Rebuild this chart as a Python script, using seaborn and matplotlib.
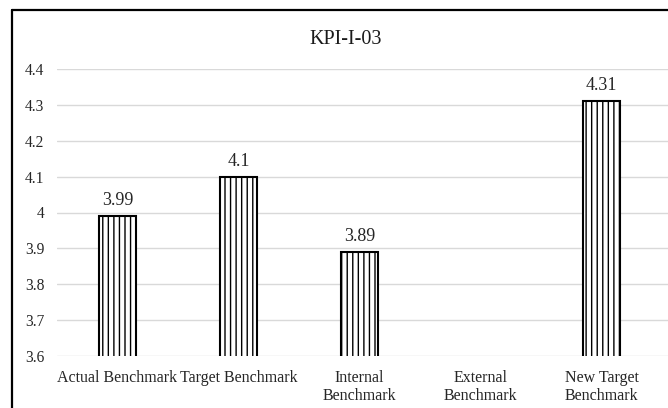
import numpy as np
import pandas as pd
import matplotlib
matplotlib.use("Agg")
import matplotlib.pyplot as plt
from matplotlib.lines import Line2D
import seaborn as sns

categories = ["Actual Benchmark", "Target Benchmark", "Internal\nBenchmark",
              "External\nBenchmark", "New Target\nBenchmark"]
values = [3.99, 4.1, 3.89, np.nan, 4.31]
y_ticks = [3.6, 3.7, 3.8, 3.9, 4.0, 4.1, 4.2, 4.3, 4.4]
y_tick_labels = ["3.6", "3.7", "3.8", "3.9", "4", "4.1", "4.2", "4.3", "4.4"]
title = "KPI-I-03"

sns.set_theme(style="white")
plt.rcParams["font.family"] = ["Liberation Serif", "DejaVu Serif"]
plt.rcParams["hatch.linewidth"] = 1.0
plt.rcParams["hatch.color"] = "black"

text_color = "#262626"
W, H = 668, 408

df = pd.DataFrame({"category": categories, "value": values})

fig = plt.figure(figsize=(W / 100, H / 100), dpi=100)
ax = fig.add_axes([57 / W, 1 - 356 / H, (668 - 57) / W, (356 - 69) / H])

sns.barplot(data=df, x="category", y="value", order=categories, ax=ax,
            color="white", edgecolor="black", linewidth=1.5, width=0.31,
            hatch="|||", errorbar=None)

# category slots are 605 px wide; the gridlines run on to the right edge
ax.set_xlim(-0.5, -0.5 + 5 * (668 - 57) / 605)
ax.set_ylim(3.6, 4.4)
ax.set_yticks(y_ticks)
ax.set_yticklabels(y_tick_labels)
ax.yaxis.grid(True, color="#d9d9d9", linewidth=1.0)
ax.set_axisbelow(True)
for s in ax.spines.values():
    s.set_visible(False)
ax.tick_params(axis="y", length=0, pad=9, labelsize=11.2, labelcolor=text_color)
ax.tick_params(axis="x", length=0, pad=10, labelsize=11.5, labelcolor=text_color)
for lab in ax.get_xticklabels():
    lab.set_linespacing(1.2)
ax.set_xlabel("")
ax.set_ylabel("")

for i, v in enumerate(values):
    if not np.isnan(v):
        ax.annotate(f"{v:g}", xy=(i, v), xytext=(0, 8), textcoords="offset points",
                    ha="center", va="baseline", fontsize=13, color=text_color)

fig.text(346 / W, 1 - 44 / H, title, ha="center", va="baseline",
         fontsize=14.5, color="#1a1a1a")

# outer frame (top and left edges)
fig.add_artist(Line2D([11.5 / W, 1.0], [1 - 10 / H, 1 - 10 / H],
                      transform=fig.transFigure, color="black", linewidth=1.6))
fig.add_artist(Line2D([11.5 / W, 11.5 / W], [0, 1 - 10 / H],
                      transform=fig.transFigure, color="black", linewidth=1.6))

fig.savefig("out.png", dpi=100)
